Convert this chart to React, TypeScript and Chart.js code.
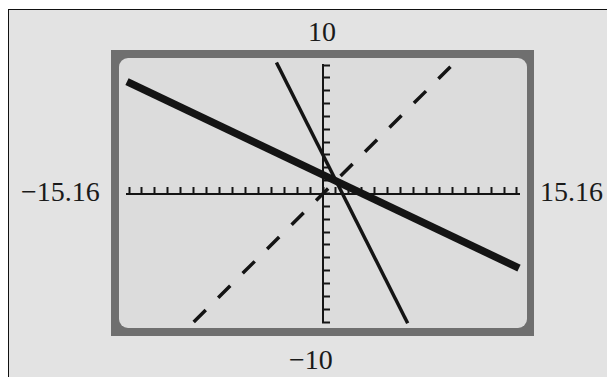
import React, { useEffect, useRef } from "react";
import { Chart, registerables } from "chart.js";

Chart.register(...registerables);

// Viewing window of the calculator
const windowX: number[] = [-15.16, 15.16];
const windowY: number[] = [-10, 10];
const windowLabels: string[] = ["10", "\u221210", "\u221215.16", "15.16"];

// Thick line
const thickX: number[] = [-15.16, 15.16];
const thickY: number[] = [8.7, -5.8];

// Thin steep line (y = -2x + 3)
const thinX: number[] = [-3.6, 6.55];
const thinY: number[] = [10.2, -10.1];

// Dashed line (y = x)
const dashX: number[] = [-10, 10];
const dashY: number[] = [-10, 10];

const INK = "#141414";

function pts(xs: number[], ys: number[]) {
  return xs.map((x, i) => ({ x, y: ys[i] }));
}

export default function App() {
  const ref = useRef<HTMLCanvasElement | null>(null);

  useEffect(() => {
    if (!ref.current) return;
    const chart = new Chart(ref.current, {
      type: "scatter",
      data: {
        datasets: [
          {
            data: pts(dashX, dashY),
            showLine: true,
            borderColor: INK,
            borderWidth: 3.5,
            borderDash: [17, 17.5],
            pointRadius: 0,
            clip: 6,
          },
          {
            data: pts(thinX, thinY),
            showLine: true,
            borderColor: INK,
            borderWidth: 3.5,
            pointRadius: 0,
            clip: 6,
          },
          {
            data: pts(thickX, thickY),
            showLine: true,
            borderColor: INK,
            borderWidth: 7.5,
            pointRadius: 0,
            clip: 6,
          },
        ],
      },
      options: {
        responsive: false,
        animation: false,
        devicePixelRatio: 1,
        layout: { padding: { left: 127, right: 88, top: 65, bottom: 55 } },
        plugins: {
          legend: { display: false },
          tooltip: { enabled: false },
          title: { display: false },
        },
        scales: {
          x: {
            type: "linear",
            min: windowX[0],
            max: windowX[1],
            position: { y: 0 } as any,
            ticks: { display: false, stepSize: 1, includeBounds: false },
            grid: {
              display: true,
              drawOnChartArea: false,
              drawTicks: true,
              tickLength: -8,
              tickWidth: 2,
              tickColor: INK,
            },
            border: { display: true, color: INK, width: 2 },
          },
          y: {
            type: "linear",
            min: windowY[0],
            max: windowY[1],
            position: { x: 0 } as any,
            ticks: { display: false, stepSize: 1, includeBounds: false },
            grid: {
              display: true,
              drawOnChartArea: false,
              drawTicks: true,
              tickLength: -8,
              tickWidth: 2,
              tickColor: INK,
            },
            border: { display: true, color: INK, width: 2 },
          },
        },
      },
    });
    return () => chart.destroy();
  }, []);

  const labelStyle: React.CSSProperties = {
    position: "absolute",
    fontFamily: "'Liberation Serif', 'Times New Roman', serif",
    fontSize: 28,
    lineHeight: "28px",
    color: "#1a1a1a",
    whiteSpace: "nowrap",
  };

  return (
    <div>
      <div
        style={{
          position: "absolute",
          left: 8,
          top: 9,
          width: 599,
          height: 368,
          boxSizing: "border-box",
          borderTop: "1px solid #111",
          borderLeft: "1px solid #111",
          background: "#e3e3e3",
        }}
      />
      <div
        style={{
          position: "absolute",
          left: 111,
          top: 50,
          width: 423,
          height: 286,
          background: "#6f6f6f",
        }}
      />
      <div
        style={{
          position: "absolute",
          left: 119,
          top: 58,
          width: 408,
          height: 270,
          borderRadius: 9,
          background: "#dcdcdc",
        }}
      />
      <div style={{ ...labelStyle, left: 308, top: 18 }}>{windowLabels[0]}</div>
      <div style={{ ...labelStyle, left: 289, top: 346 }}>{windowLabels[1]}</div>
      <div style={{ ...labelStyle, left: 21, top: 178 }}>{windowLabels[2]}</div>
      <div style={{ ...labelStyle, left: 540, top: 178 }}>{windowLabels[3]}</div>
      <canvas
        ref={ref}
        width={607}
        height={377}
        style={{ position: "absolute", left: 0, top: 0, width: 607, height: 377 }}
      />
    </div>
  );
}
